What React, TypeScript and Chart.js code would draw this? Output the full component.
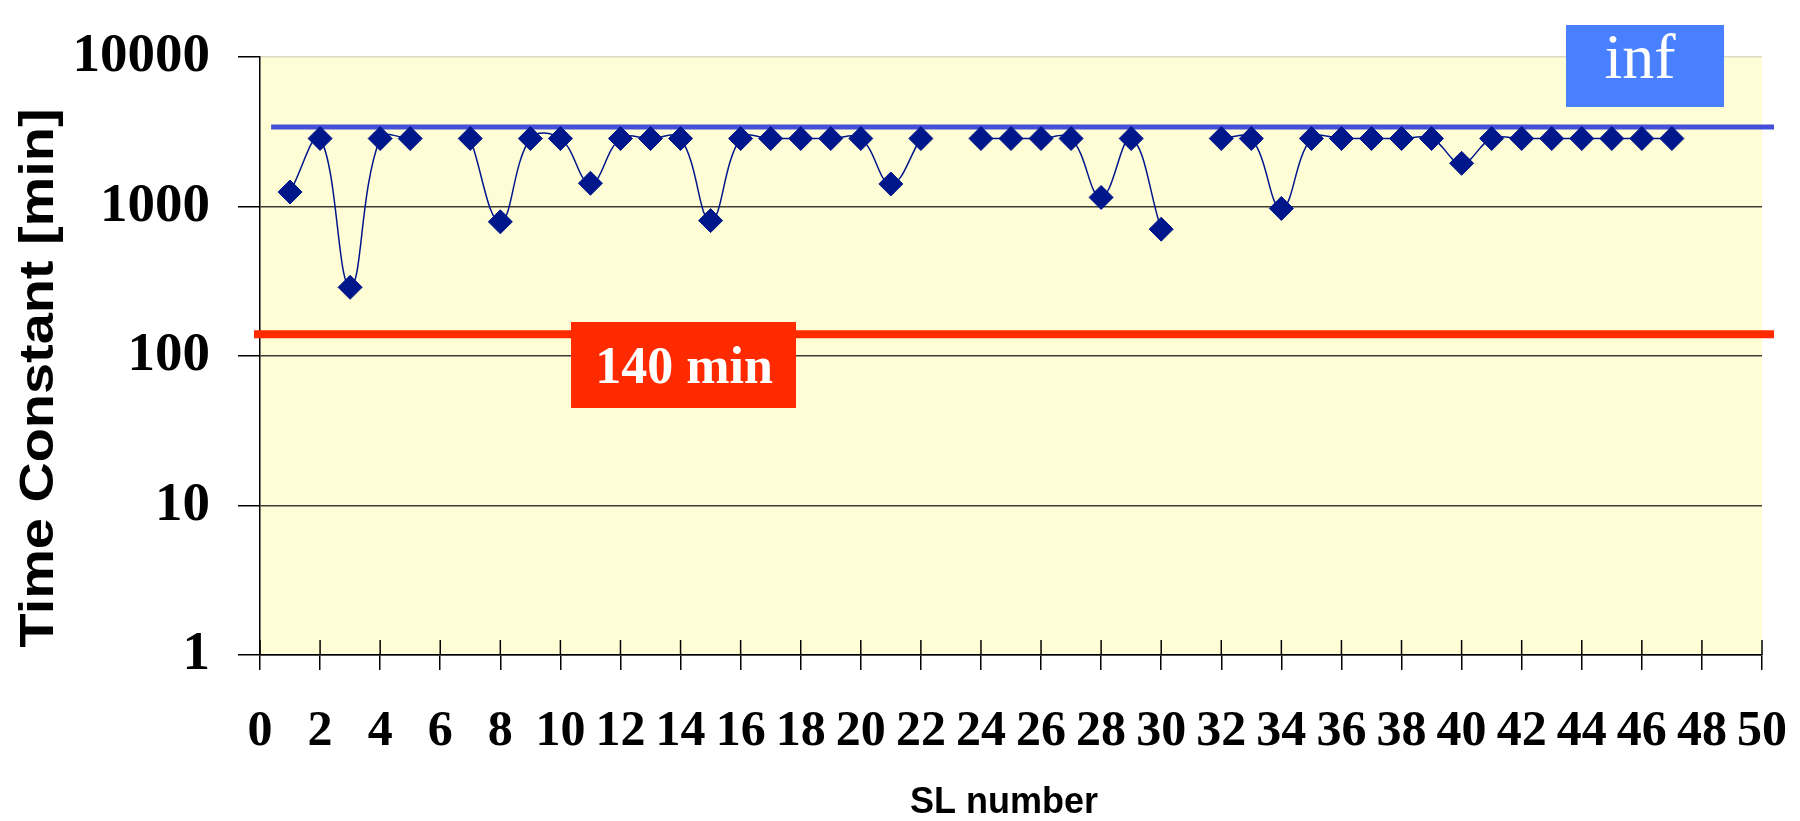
import React, { useEffect, useRef } from 'react';
import { Chart, registerables } from 'chart.js';

Chart.register(...registerables);

// ---- data ----
const slNumbers = [
  1, 2, 3, 4, 5, 6, 7, 8, 9, 10, 11, 12, 13, 14, 15, 16, 17, 18, 19, 20, 21, 22, 23, 24,
  25, 26, 27, 28, 29, 30, 31, 32, 33, 34, 35, 36, 37, 38, 39, 40, 41, 42, 43, 44, 45, 46, 47,
];
const timeConstants: (number | null)[] = [
  1250, 2850, 288, 2850, 2850, null, 2850, 790, 2850, 2850, 1430, 2850, 2850, 2850, 805, 2850,
  2850, 2850, 2850, 2850, 1415, 2850, null, 2850, 2850, 2850, 2850, 1150, 2850, 705, null, 2850,
  2850, 970, 2850, 2850, 2850, 2850, 2850, 1945, 2850, 2850, 2850, 2850, 2850, 2850, 2850,
];
const limitMinutes = 140;
const limitXRange = [-0.2, 50.4];
const infLevel = 3400;
const infXRange = [0.37, 50.4];
const xTickValues = [0, 2, 4, 6, 8, 10, 12, 14, 16, 18, 20, 22, 24, 26, 28, 30, 32, 34, 36, 38, 40, 42, 44, 46, 48, 50];
const yTickValues = [1, 10, 100, 1000, 10000];
const yTitle = 'Time Constant [min]';
const xTitle = 'SL number';
const limitLabel = '140 min';
const infLabel = 'inf';

const SERIF = "'Liberation Serif', 'Times New Roman', serif";
const SANS = "'Liberation Sans', Arial, sans-serif";
const NAVY = '#00178c';

const bgPlugin = {
  id: 'plotBg',
  beforeDraw(chart: any) {
    const { ctx, chartArea: a } = chart;
    ctx.save();
    ctx.fillStyle = '#fffdd6';
    ctx.fillRect(a.left, a.top, a.right - a.left, a.bottom - a.top);
    ctx.restore();
  },
  beforeDatasetsDraw(chart: any) {
    const { ctx, chartArea: a } = chart;
    const xs = chart.scales.x;
    ctx.save();
    ctx.strokeStyle = '#000';
    ctx.lineWidth = 1.5;
    xs.ticks.forEach((t: any) => {
      const px = xs.getPixelForValue(t.value);
      ctx.beginPath();
      ctx.moveTo(px, a.bottom - 15);
      ctx.lineTo(px, a.bottom);
      ctx.stroke();
    });
    ctx.restore();
  },
};

const labelPlugin = {
  id: 'labels',
  afterDraw(chart: any) {
    const { ctx } = chart;
    ctx.save();
    // 140 min box
    ctx.fillStyle = '#ff2a00';
    ctx.fillRect(571, 322, 225, 86);
    ctx.fillStyle = '#ffffff';
    ctx.font = `bold 52px ${SERIF}`;
    ctx.textAlign = 'center';
    ctx.textBaseline = 'alphabetic';
    ctx.fillText(limitLabel, 684, 383);
    // inf box
    ctx.fillStyle = '#4880ff';
    ctx.fillRect(1566, 25, 158, 82);
    ctx.fillStyle = '#ffffff';
    ctx.font = `64px ${SERIF}`;
    ctx.fillText(infLabel, 1640, 78);
    // axis titles
    ctx.fillStyle = '#000';
    ctx.font = `bold 36px ${SANS}`;
    ctx.fillText(xTitle, 1004, 813);
    ctx.translate(53, 378);
    ctx.rotate(-Math.PI / 2);
    ctx.scale(1.14, 1);
    ctx.font = `bold 49px ${SANS}`;
    ctx.fillText(yTitle, 0, 0);
    ctx.restore();
  },
};

export default function App() {
  const canvasRef = useRef<HTMLCanvasElement>(null);

  useEffect(() => {
    const canvas = canvasRef.current;
    if (!canvas) return;
    const chart = new Chart(canvas, {
      type: 'line',
      data: {
        datasets: [
          {
            label: 'Time constant',
            data: slNumbers.map((x, i) => ({ x, y: timeConstants[i] })),
            borderColor: NAVY,
            borderWidth: 1.5,
            backgroundColor: NAVY,
            pointStyle: 'rectRot',
            pointRadius: 12,
            pointBorderColor: NAVY,
            pointBackgroundColor: NAVY,
            pointBorderWidth: 1,
            tension: 0.4,
            spanGaps: false,
            fill: false,
          },
          {
            label: 'inf',
            data: infXRange.map((x) => ({ x, y: infLevel })),
            borderColor: '#4450d8',
            borderWidth: 5,
            pointRadius: 0,
            fill: false,
            clip: false,
          },
          {
            label: '140 min',
            data: limitXRange.map((x) => ({ x, y: limitMinutes })),
            borderColor: '#ff2a00',
            borderWidth: 8,
            pointRadius: 0,
            fill: false,
            clip: false,
          },
        ] as any,
      },
      options: {
        animation: false,
        responsive: false,
        devicePixelRatio: 1,
        layout: { padding: { top: 57, right: 38, bottom: 0, left: 0 } },
        plugins: {
          legend: { display: false },
          tooltip: { enabled: false },
          title: { display: false },
        },
        scales: {
          x: {
            type: 'linear',
            min: 0,
            max: 50,
            afterBuildTicks: (s: any) => {
              s.ticks = xTickValues.map((v) => ({ value: v }));
            },
            afterFit: (s: any) => {
              s.height = 166;
              s.paddingLeft = 0;
              s.paddingRight = 0;
            },
            ticks: {
              autoSkip: false,
              maxRotation: 0,
              minRotation: 0,
              padding: 32,
              color: '#000',
              font: { family: SERIF, size: 50, weight: 'bold' },
              callback: (v: any) => String(v),
            },
            grid: {
              drawOnChartArea: false,
              drawTicks: true,
              tickLength: 15,
              color: '#000',
              lineWidth: 1.5,
            },
            border: { display: true, color: '#000', width: 1.5 },
          },
          y: {
            type: 'logarithmic',
            min: 1,
            max: 10000,
            afterBuildTicks: (s: any) => {
              s.ticks = yTickValues.map((v) => ({ value: v }));
            },
            afterFit: (s: any) => {
              s.width = 260;
              s.paddingTop = 0;
              s.paddingBottom = 0;
            },
            ticks: {
              padding: 28,
              color: '#000',
              font: { family: SERIF, size: 55, weight: 'bold' },
              callback: (v: any) => String(v),
            },
            grid: {
              color: (c: any) => (c.tick && c.tick.value === 10000 ? '#d9d9c4' : '#3c3c34'),
              lineWidth: 1.5,
              tickLength: 22,
              tickColor: '#000',
            },
            border: { display: true, color: '#000', width: 1.5 },
          },
        } as any,
      },
      plugins: [bgPlugin, labelPlugin],
    });
    return () => chart.destroy();
  }, []);

  return (
    <div style={{ position: 'fixed', left: 0, top: 0, width: 1800, height: 821, background: '#fff' }}>
      <canvas ref={canvasRef} width={1800} height={821} style={{ width: 1800, height: 821, display: 'block' }} />
    </div>
  );
}
